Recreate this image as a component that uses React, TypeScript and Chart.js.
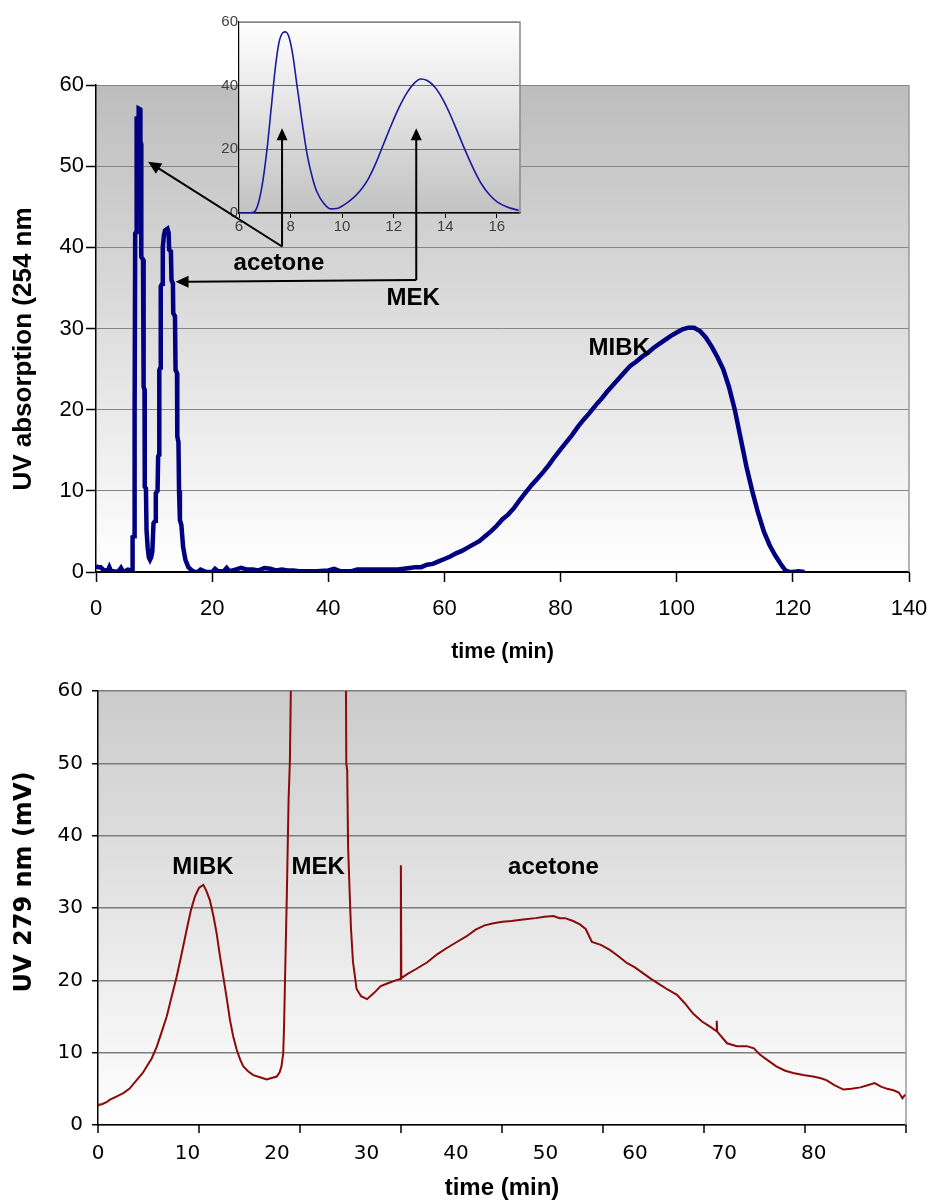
import React, { useEffect, useRef } from "react";
import { Chart, registerables } from "chart.js";

Chart.register(...registerables);

// ---------------- data ----------------
// Top chromatogram: UV absorption at 254 nm vs time (min)
const topTime = [
  0, 0.4, 0.8, 1.2, 1.6, 2.0, 2.3, 2.6, 3.0, 3.5, 4.0, 4.3, 4.6, 5.0, 5.5, 6.0, 6.25,
  6.3, 6.55, 6.6, 6.7, 6.75, 6.95, 7.0, 7.3, 7.35, 7.6, 7.65, 7.75, 7.8, 8.1, 8.2, 8.35,
  8.4, 8.6, 8.7, 8.9, 9.1, 9.3, 9.5, 9.7, 9.9, 10.2, 10.3, 10.6, 10.7, 10.85, 10.9, 11.1,
  11.15, 11.4, 11.5, 11.7, 11.9, 12.3, 12.5, 12.6, 12.9, 13.0, 13.25, 13.3, 13.6, 13.7,
  13.95, 14.0, 14.2, 14.3, 14.45, 14.7, 15.0, 15.4, 15.9, 16.5, 17.0,
  17.5, 18, 19, 20, 20.5, 21, 22, 22.5, 23, 24, 25, 26, 27, 28, 29, 30, 31, 32, 33, 34, 35,
  36, 38, 40, 41, 42, 44, 45, 46, 48, 50, 52, 53, 54, 55, 56,
  57, 58, 59, 60, 61, 62, 63, 64, 65, 66, 67, 68, 69, 70, 71, 72, 73, 74, 75, 76, 77, 78,
  79, 80, 81, 82, 83, 84, 85, 86, 87, 88, 89, 90, 91, 92, 93, 94, 95, 96, 97, 98, 99, 100,
  101, 102, 103, 104, 105, 106, 107, 108, 109, 110, 111, 112, 113, 114, 115, 116, 117, 118,
  118.7, 119.5, 120, 121, 122,
];
const topUV = [
  0.7, 0.6, 0.6, 0.3, 0.2, 0.1, 0.6, 0.1, 0.1, 0.0, 0.2, 0.5, 0.1, 0.1, 0.3, 0.2, 0.2,
  4.3, 4.4, 19.1, 19.3, 41.7, 41.9, 55.9, 56.0, 57.1, 57.0, 53.0, 52.8, 38.8, 38.5, 22.8, 22.5,
  10.5, 10.3, 5.2, 3.0, 1.8, 1.5, 1.8, 2.5, 6.0, 6.3, 9.7, 10.0, 14.2, 14.5, 24.9, 25.2,
  35.2, 35.5, 40.0, 41.5, 42.1, 42.3, 41.8, 39.7, 39.5, 36.0, 35.5, 31.9, 31.5, 24.9,
  24.5, 16.7, 16.0, 10.0, 6.4, 5.8, 3.1, 1.5, 0.6, 0.2, 0.0,
  0.0, 0.3, 0.0, 0.0, 0.4, 0.1, 0.1, 0.5, 0.1, 0.3, 0.5, 0.3, 0.3, 0.2, 0.5, 0.4, 0.2, 0.3, 0.2, 0.2, 0.1,
  0.1, 0.1, 0.2, 0.4, 0.1, 0.1, 0.3, 0.3, 0.3, 0.3, 0.3, 0.4, 0.5, 0.6, 0.6,
  0.9, 1.0, 1.3, 1.6, 1.9, 2.3, 2.6, 3.0, 3.4, 3.8, 4.4, 5.0, 5.7, 6.5, 7.1, 7.9, 8.9, 9.8, 10.7, 11.5, 12.3, 13.2,
  14.2, 15.1, 16.0, 16.9, 17.9, 18.8, 19.6, 20.5, 21.3, 22.2, 23.0, 23.8, 24.6, 25.4, 25.9, 26.5, 27.0, 27.6, 28.1, 28.6, 29.1, 29.5,
  29.9, 30.1, 30.1, 29.7, 28.9, 27.8, 26.5, 25.0, 22.8, 20.0, 16.5, 13.0, 10.0, 7.3, 5.0, 3.3, 2.0, 0.9,
  0.2, 0.0, 0.0, 0.1, 0.0,
];
const topXTicks = [0, 20, 40, 60, 80, 100, 120, 140];
const topYTicks = [0, 10, 20, 30, 40, 50, 60];

// Inset: zoom of the acetone / MEK peaks
const insetTime = [
  6.0, 6.3, 6.56, 6.7, 6.89, 7.08, 7.25, 7.4, 7.55, 7.7, 7.8, 7.95, 8.1, 8.25, 8.45, 8.64,
  8.85, 9.03, 9.3, 9.55, 9.8, 10.05, 10.34, 10.7, 11.0, 11.3, 11.6, 11.9, 12.2, 12.5, 12.8,
  13.05, 13.3, 13.6, 13.9, 14.2, 14.5, 14.8, 15.1, 15.4, 15.7, 16.0, 16.4, 16.85,
];
const insetUV = [
  0.0, 0.0, 0.2, 1.8, 8.3, 19.5, 33.0, 45.0, 53.5, 56.6, 56.9, 55.0, 49.0, 40.0, 28.5, 18.5,
  11.0, 6.5, 2.9, 1.3, 1.4, 2.4, 4.1, 7.0, 10.5, 15.5, 21.5, 27.5, 33.0, 37.6, 40.8,
  42.1, 41.6, 39.5, 35.8, 30.8, 25.0, 19.2, 13.8, 9.2, 5.9, 3.6, 1.9, 0.8,
];
const insetXTicks = [6, 8, 10, 12, 14, 16];
const insetYTicks = [0, 20, 40, 60];

// Bottom chromatogram: UV 279 nm (mV) vs time (min)
const bottomTime = [
  0, 0.15, 0.5, 1.0, 1.34, 2.0, 2.83, 3.5, 4.32, 5.0, 5.44, 6.0, 6.56, 7.1, 7.68, 8.2, 8.79,
  9.3, 9.91, 10.4, 10.84, 11.3, 11.77, 12.1, 12.5, 12.9, 13.26, 13.6, 14.0, 14.4, 14.75,
  15.1, 15.5, 15.9, 16.24, 16.8, 17.36, 18.1, 18.85, 19.4, 19.97, 20.3, 20.5, 20.7, 20.8,
  20.9, 21.1, 21.3, 21.45, 21.6, 27.7, 27.75, 27.85, 27.95, 28.1, 28.27, 28.5, 28.9, 29.4,
  30.07, 30.8, 31.6, 32.4, 33.26, 33.8, 33.85, 33.9, 34.6, 35.6, 36.8, 37.9, 38.9, 40.1,
  41.2, 42.2, 43.2, 44.2, 45.2, 46.2, 47.5, 48.9, 49.9, 50.9, 51.6, 52.2, 53.1, 53.9, 54.5,
  55.2, 56.2, 57.2, 58.2, 59.1, 60.0, 60.9, 61.8, 62.8, 63.7, 64.7, 65.6, 66.5, 67.5, 68.4,
  69.1, 69.15, 69.2, 70.3, 71.4, 72.5, 73.3, 74.0, 74.9, 75.8, 76.8, 77.7, 78.8, 79.9, 80.7,
  81.4, 82.3, 83.3, 84.2, 85.2, 86.0, 86.8, 87.5, 88.2, 88.9, 89.5, 89.9, 90.2,
];
const bottomUV = [
  2.6, 2.8, 2.9, 3.2, 3.5, 3.9, 4.4, 5.0, 6.2, 7.2, 8.1, 9.2, 10.8, 12.8, 15.0, 17.6, 20.5,
  23.4, 27.0, 29.8, 31.6, 32.8, 33.2, 32.4, 31.1, 28.9, 26.5, 23.6, 20.5, 17.4, 14.5,
  12.3, 10.4, 9.0, 8.1, 7.4, 6.9, 6.6, 6.3, 6.5, 6.7, 7.3, 8.1, 9.9, 14.0,
  20.0, 31.6, 45.0, 50.5, 65.0, 65.0, 50.0, 49.0, 38.5, 33.0, 27.2, 22.5, 18.8, 17.8,
  17.4, 18.2, 19.2, 19.6, 20.0, 20.2, 35.9, 20.3, 20.9, 21.6, 22.5, 23.6, 24.4, 25.3,
  26.1, 27.0, 27.6, 27.9, 28.1, 28.2, 28.4, 28.6, 28.8, 28.9, 28.6, 28.6, 28.2, 27.7, 27.1,
  25.3, 24.9, 24.2, 23.3, 22.4, 21.8, 21.0, 20.2, 19.4, 18.7, 18.0, 16.8, 15.4, 14.3, 13.6,
  13.0, 14.4, 12.9, 11.3, 10.9, 10.9, 10.6, 9.7, 8.9, 8.1, 7.5, 7.2, 6.9, 6.7, 6.5,
  6.2, 5.5, 4.9, 5.0, 5.2, 5.5, 5.8, 5.3, 5.0, 4.8, 4.5, 3.7, 4.2,
];
const bottomXTicks = [0, 10, 20, 30, 40, 50, 60, 70, 80];
const bottomYTicks = [0, 10, 20, 30, 40, 50, 60];

// ---------------- helpers ----------------
const ARIAL = "'Liberation Sans', Arial, Helvetica, sans-serif";
const DEJAVU = "'DejaVu Sans', Verdana, sans-serif";

function toPoints(xs: number[], ys: number[]) {
  return xs.map((x, i) => ({ x, y: ys[i] }));
}
function useTicks(values: number[]) {
  return (scale: any) => {
    scale.ticks = values.map((v) => ({ value: v }));
  };
}
function fixSize(prop: "width" | "height", size: number) {
  return (s: any) => {
    s[prop] = size;
    s.paddingLeft = 0;
    s.paddingRight = 0;
    s.paddingTop = 0;
    s.paddingBottom = 0;
  };
}
function drawText(
  ctx: CanvasRenderingContext2D,
  text: string,
  x: number,
  y: number,
  font: string,
  rot = 0,
  color = "#000"
) {
  ctx.save();
  ctx.translate(x, y);
  if (rot) ctx.rotate(rot);
  ctx.font = font;
  ctx.fillStyle = color;
  ctx.textAlign = "center";
  ctx.textBaseline = "alphabetic";
  ctx.fillText(text, 0, 0);
  ctx.restore();
}
function drawArrow(
  ctx: CanvasRenderingContext2D,
  from: { x: number; y: number },
  to: { x: number; y: number },
  head = 12,
  half = 5.5
) {
  const dx = to.x - from.x;
  const dy = to.y - from.y;
  const len = Math.hypot(dx, dy);
  const ux = dx / len;
  const uy = dy / len;
  const bx = to.x - ux * head;
  const by = to.y - uy * head;
  ctx.beginPath();
  ctx.moveTo(from.x, from.y);
  ctx.lineTo(bx + ux, by + uy);
  ctx.stroke();
  ctx.beginPath();
  ctx.moveTo(to.x, to.y);
  ctx.lineTo(bx - uy * half, by + ux * half);
  ctx.lineTo(bx + uy * half, by - ux * half);
  ctx.closePath();
  ctx.fill();
}
function plotFrame(topColor: string, bottomColor: string, borderColor: string, borderTop: boolean) {
  return {
    id: "plotFrame",
    beforeDraw(chart: any) {
      const { ctx, chartArea: a } = chart;
      const g = ctx.createLinearGradient(0, a.top, 0, a.bottom);
      g.addColorStop(0, topColor);
      g.addColorStop(1, bottomColor);
      ctx.save();
      ctx.fillStyle = g;
      ctx.fillRect(a.left, a.top, a.right - a.left, a.bottom - a.top);
      ctx.restore();
    },
    beforeDatasetsDraw(chart: any) {
      const { ctx, chartArea: a } = chart;
      ctx.save();
      ctx.strokeStyle = borderColor;
      ctx.lineWidth = 1.5;
      ctx.beginPath();
      if (borderTop) {
        ctx.moveTo(a.left, a.top);
        ctx.lineTo(a.right, a.top);
      } else {
        ctx.moveTo(a.right, a.top);
      }
      ctx.lineTo(a.right, a.bottom);
      ctx.stroke();
      ctx.restore();
    },
  };
}

export default function App() {
  const topRef = useRef<HTMLCanvasElement>(null);
  const insetRef = useRef<HTMLCanvasElement>(null);
  const botRef = useRef<HTMLCanvasElement>(null);

  useEffect(() => {
    const charts: Chart[] = [];

    // ---------- top main chart ----------
    const topLabels = {
      id: "topLabels",
      afterDraw(chart: any) {
        const { ctx } = chart;
        const xs = chart.scales.x;
        const ys = chart.scales.y;
        const f = `bold 24px ${ARIAL}`;
        drawText(ctx, "MIBK", xs.getPixelForValue(90.1), ys.getPixelForValue(26.7), f);
        drawText(ctx, "acetone", xs.getPixelForValue(31.5), ys.getPixelForValue(37.2), f);
        drawText(ctx, "MEK", xs.getPixelForValue(54.6), ys.getPixelForValue(32.9), f);
        drawText(ctx, "UV absorption (254 nm", 31, 349, `bold 26px ${ARIAL}`, -Math.PI / 2);
      },
    };
    const topChart = new Chart(topRef.current as HTMLCanvasElement, {
      type: "line",
      data: {
        datasets: [
          {
            data: toPoints(topTime, topUV),
            borderColor: "#000080",
            borderWidth: 4.5,
            pointRadius: 0,
            tension: 0,
            fill: false,
          },
        ],
      },
      options: {
        responsive: false,
        animation: false,
        devicePixelRatio: 1,
        layout: { padding: { left: 0, right: 24, top: 85, bottom: 0 } },
        plugins: { legend: { display: false }, tooltip: { enabled: false } },
        scales: {
          x: {
            type: "linear",
            min: 0,
            max: 140,
            afterFit: fixSize("height", 108),
            afterBuildTicks: useTicks(topXTicks),
            ticks: { padding: 14, color: "#000", font: { family: ARIAL, size: 22 } },
            grid: { drawOnChartArea: false, tickLength: 10, tickColor: "#000", tickWidth: 1.5 },
            border: { color: "#000", width: 2 },
            title: {
              display: true,
              text: "time (min)",
              color: "#000",
              font: { family: ARIAL, size: 21.5, weight: "bold" },
              padding: { top: 0, bottom: 15 },
            },
          },
          y: {
            type: "linear",
            min: 0,
            max: 60,
            afterFit: fixSize("width", 96),
            afterBuildTicks: useTicks(topYTicks),
            ticks: { padding: 2, color: "#000", font: { family: ARIAL, size: 22 } },
            grid: { color: "#858585", lineWidth: 1, tickLength: 10, tickColor: "#000", tickWidth: 1.5 },
            border: { color: "#000", width: 1.5 },
          },
        },
      } as any,
      plugins: [plotFrame("#bdbdbd", "#ffffff", "#9a9a9a", false), topLabels],
    });
    charts.push(topChart);

    // ---------- inset (overlay) ----------
    const insetArrows = {
      id: "insetArrows",
      afterDraw(chart: any) {
        const { ctx } = chart;
        const ix = chart.scales.x;
        const iy = chart.scales.y;
        const mx = topChart.scales.x;
        const my = topChart.scales.y;
        ctx.save();
        ctx.strokeStyle = "#000";
        ctx.fillStyle = "#000";
        ctx.lineWidth = 2;
        // acetone
        const ja = { x: ix.getPixelForValue(7.67), y: my.getPixelForValue(40.1) };
        drawArrow(ctx, ja, { x: ix.getPixelForValue(7.67), y: iy.getPixelForValue(26.6) });
        drawArrow(ctx, ja, { x: mx.getPixelForValue(8.97), y: my.getPixelForValue(50.55) }, 13, 6);
        // MEK
        const jm = { x: ix.getPixelForValue(12.875), y: my.getPixelForValue(35.97) };
        drawArrow(ctx, jm, { x: ix.getPixelForValue(12.875), y: iy.getPixelForValue(26.6) });
        drawArrow(ctx, jm, { x: mx.getPixelForValue(13.7), y: my.getPixelForValue(35.76) }, 13, 6);
        ctx.restore();
      },
    };
    const insetChart = new Chart(insetRef.current as HTMLCanvasElement, {
      type: "line",
      data: {
        datasets: [
          {
            data: toPoints(insetTime, insetUV),
            borderColor: "#1a1a9e",
            borderWidth: 1.6,
            pointRadius: 0,
            cubicInterpolationMode: "monotone",
            fill: false,
          },
        ],
      },
      options: {
        responsive: false,
        animation: false,
        devicePixelRatio: 1,
        layout: { padding: { left: 209, right: 413, top: 22, bottom: 437 } },
        plugins: { legend: { display: false }, tooltip: { enabled: false } },
        scales: {
          x: {
            type: "linear",
            min: 6,
            max: 16.9,
            afterFit: fixSize("height", 30),
            afterBuildTicks: useTicks(insetXTicks),
            ticks: { padding: 0, color: "#404040", font: { family: ARIAL, size: 15 } },
            grid: { drawOnChartArea: false, tickLength: 5, tickColor: "#000" },
            border: { color: "#000", width: 1.2 },
          },
          y: {
            type: "linear",
            min: 0,
            max: 60,
            afterFit: fixSize("width", 30),
            afterBuildTicks: useTicks(insetYTicks),
            ticks: { padding: 1, color: "#404040", font: { family: ARIAL, size: 15 } },
            grid: { color: "#6a6a6a", lineWidth: 1, drawTicks: false },
            border: { color: "#000", width: 1.2 },
          },
        },
      } as any,
      plugins: [plotFrame("#ffffff", "#c2c2c2", "#8a8a8a", true), insetArrows],
    });
    charts.push(insetChart);

    // ---------- bottom chart ----------
    const bottomExtras = {
      id: "bottomExtras",
      afterDraw(chart: any) {
        const { ctx, chartArea: a } = chart;
        const xs = chart.scales.x;
        const ys = chart.scales.y;
        // tick marks along the time axis (8 equal divisions)
        ctx.save();
        ctx.strokeStyle = "#000";
        ctx.lineWidth = 1.5;
        for (let i = 0; i <= 8; i++) {
          const x = a.left + ((a.right - a.left) * i) / 8;
          ctx.beginPath();
          ctx.moveTo(x, a.bottom);
          ctx.lineTo(x, a.bottom + 8);
          ctx.stroke();
        }
        ctx.restore();
        const f = `bold 24px ${ARIAL}`;
        drawText(ctx, "MIBK", xs.getPixelForValue(11.73), ys.getPixelForValue(34.7), f);
        drawText(ctx, "MEK", xs.getPixelForValue(24.6), ys.getPixelForValue(34.7), f);
        drawText(ctx, "acetone", xs.getPixelForValue(50.9), ys.getPixelForValue(34.7), f);
        drawText(ctx, "UV 279 nm (mV)", 31, 212, `bold 24px ${DEJAVU}`, -Math.PI / 2);
      },
    };
    const bottomChart = new Chart(botRef.current as HTMLCanvasElement, {
      type: "line",
      data: {
        datasets: [
          {
            data: toPoints(bottomTime, bottomUV),
            borderColor: "#8b0a0a",
            borderWidth: 2,
            pointRadius: 0,
            tension: 0,
            fill: false,
          },
        ],
      },
      options: {
        responsive: false,
        animation: false,
        devicePixelRatio: 1,
        layout: { padding: { left: 0, right: 27, top: 21, bottom: 0 } },
        plugins: { legend: { display: false }, tooltip: { enabled: false } },
        scales: {
          x: {
            type: "linear",
            min: 0,
            max: 90.3,
            afterFit: fixSize("height", 78),
            afterBuildTicks: useTicks(bottomXTicks),
            ticks: { padding: 17, color: "#000", font: { family: DEJAVU, size: 20 } },
            grid: { drawOnChartArea: false, drawTicks: false },
            border: { color: "#000", width: 1.5 },
            title: {
              display: true,
              text: "time (min)",
              color: "#000",
              font: { family: ARIAL, size: 24, weight: "bold" },
              padding: { top: 0, bottom: 0 },
            },
          },
          y: {
            type: "linear",
            min: 0,
            max: 60,
            afterFit: fixSize("width", 98),
            afterBuildTicks: useTicks(bottomYTicks),
            ticks: { padding: 9, color: "#000", font: { family: DEJAVU, size: 20 } },
            grid: { color: "#7d7d7d", lineWidth: 1.5, tickLength: 6, tickColor: "#000" },
            border: { color: "#000", width: 1.5 },
          },
        },
      } as any,
      plugins: [plotFrame("#cbcbcb", "#ffffff", "#9a9a9a", false), bottomExtras],
    });
    charts.push(bottomChart);

    return () => {
      charts.forEach((c) => c.destroy());
    };
  }, []);

  return (
    <div style={{ position: "absolute", left: 0, top: 0, width: 933, height: 1203, background: "#fff" }}>
      <canvas ref={topRef} width={933} height={680} style={{ position: "absolute", left: 0, top: 0 }} />
      <canvas ref={botRef} width={933} height={533} style={{ position: "absolute", left: 0, top: 670 }} />
      <canvas ref={insetRef} width={933} height={680} style={{ position: "absolute", left: 0, top: 0 }} />
    </div>
  );
}
